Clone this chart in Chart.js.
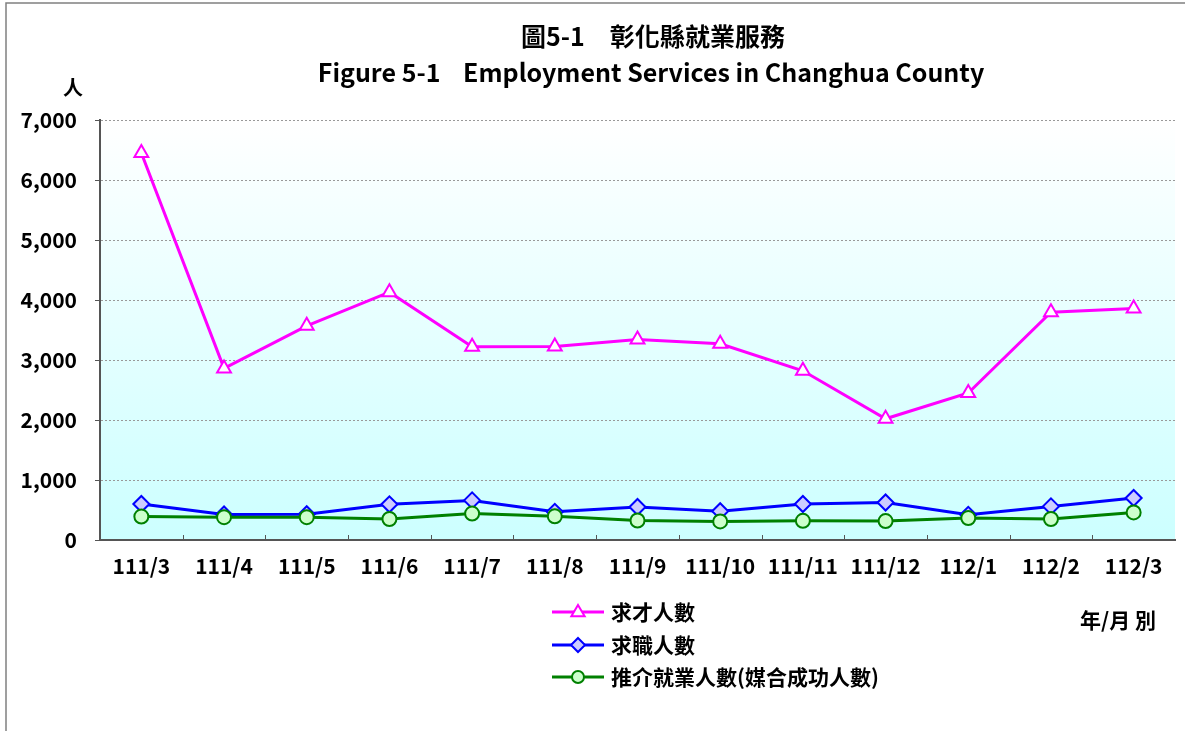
<!DOCTYPE html>
<html>
<head>
<meta charset="utf-8">
<script src="https://cdn.jsdelivr.net/npm/chart.js@4.4.0/dist/chart.umd.min.js"></script>
<style>
  html, body { margin: 0; padding: 0; background: #fff; overflow: hidden; }
  #wrap { width: 1185px; height: 731px; position: relative; }
</style>
</head>
<body>
<div id="wrap"><canvas id="employmentChart" width="1185" height="731"></canvas></div>
<script>
// months (ROC year / month)
const months = ["111/3", "111/4", "111/5", "111/6", "111/7", "111/8", "111/9",
  "111/10", "111/11", "111/12", "112/1", "112/2", "112/3"];

// 求才人數
const vacancies = [6450, 2860, 3570, 4130, 3220, 3225, 3340, 3270, 2820, 2020, 2450, 3795, 3860];
// 求職人數
const jobSeekers = [600, 425, 430, 595, 660, 470, 550, 480, 600, 625, 420, 560, 700];
// 推介就業人數(媒合成功人數)
const placements = [390, 380, 380, 350, 440, 395, 325, 310, 320, 315, 365, 350, 460];

const yTicks = [0, 1000, 2000, 3000, 4000, 5000, 6000, 7000];

const titleZh = "圖5-1　彰化縣就業服務";
const titleEn = "Figure 5-1    Employment Services in Changhua County";
const yUnit = "人";
const xUnit = "年/月 別";

const FONT = "'Noto Sans CJK TC', 'Noto Sans', sans-serif";

// background gradient of the plot area + outer frame
const backgroundPlugin = {
  id: "plotBackground",
  beforeDraw(chart) {
    const { ctx, chartArea } = chart;
    ctx.save();
    const grad = ctx.createLinearGradient(0, chartArea.top, 0, chartArea.bottom);
    grad.addColorStop(0, "#ffffff");
    grad.addColorStop(1, "#ccffff");
    ctx.fillStyle = grad;
    ctx.fillRect(chartArea.left, chartArea.top, chartArea.right - chartArea.left, chartArea.bottom - chartArea.top);

    // outer frame (only top and left are inside the picture)
    ctx.strokeStyle = "#808080";
    ctx.lineWidth = 1.5;
    ctx.beginPath();
    ctx.moveTo(6, 740);
    ctx.lineTo(6, 3);
    ctx.lineTo(1200, 3);
    ctx.stroke();
    ctx.restore();
  }
};

function drawMarker(ctx, style, x, y, r) {
  if (style === "circle") {
    ctx.arc(x, y, r, 0, Math.PI * 2);
  } else if (style === "rectRot") {
    ctx.moveTo(x, y - r); ctx.lineTo(x + r, y); ctx.lineTo(x, y + r); ctx.lineTo(x - r, y); ctx.closePath();
  } else {
    ctx.moveTo(x, y - r); ctx.lineTo(x + r * 0.95, y + r * 0.6); ctx.lineTo(x - r * 0.95, y + r * 0.6); ctx.closePath();
  }
}

// titles, unit labels, inner x tick marks, legend
const annotationPlugin = {
  id: "annotations",
  afterDraw(chart) {
    const { ctx, chartArea } = chart;
    const xScale = chart.scales.x;
    ctx.save();

    // inward tick marks on the x axis between categories
    ctx.strokeStyle = "#555";
    ctx.lineWidth = 1;
    for (let i = 1; i < months.length; i++) {
      const x = Math.round((xScale.getPixelForValue(i - 1) + xScale.getPixelForValue(i)) / 2) + 0.5;
      ctx.beginPath();
      ctx.moveTo(x, chartArea.bottom);
      ctx.lineTo(x, chartArea.bottom - 5);
      ctx.stroke();
    }

    ctx.fillStyle = "#000";
    ctx.textAlign = "center";
    ctx.textBaseline = "middle";
    ctx.font = "bold 25px " + FONT;
    ctx.fillText(titleZh, 653, 36);
    ctx.fillText(titleEn, 651, 72);

    ctx.font = "bold 20px " + FONT;
    ctx.fillText(yUnit, 73, 87);
    ctx.textAlign = "left";
    ctx.font = "bold 21px " + FONT;
    ctx.fillText(xUnit, 1080, 620);

    // legend, built from the datasets
    const rowY = [612, 645, 677];
    chart.data.datasets.forEach((ds, r) => {
      const y = rowY[r];
      ctx.strokeStyle = ds.borderColor;
      ctx.lineWidth = 3;
      ctx.beginPath();
      ctx.moveTo(552, y);
      ctx.lineTo(604, y);
      ctx.stroke();
      ctx.fillStyle = ds.pointBackgroundColor;
      ctx.lineWidth = 2;
      ctx.beginPath();
      drawMarker(ctx, ds.pointStyle, 578, y, ds.pointRadius - 1);
      ctx.fill();
      ctx.stroke();
      ctx.fillStyle = "#000";
      ctx.font = "bold 21px " + FONT;
      ctx.textAlign = "left";
      ctx.fillText(ds.label, 611, y);
    });
    ctx.restore();
  }
};

const ctx = document.getElementById("employmentChart");

new Chart(ctx, {
  type: "line",
  data: {
    labels: months,
    datasets: [
      {
        label: "求才人數",
        data: vacancies,
        borderColor: "#ff00ff",
        backgroundColor: "#ffffff",
        pointBackgroundColor: "#ffffff",
        pointBorderColor: "#ff00ff",
        pointStyle: "triangle",
        pointRadius: 8,
        pointBorderWidth: 2,
        borderWidth: 3,
        tension: 0,
        order: 2,
      },
      {
        label: "求職人數",
        data: jobSeekers,
        borderColor: "#0000ff",
        backgroundColor: "#ccccff",
        pointBackgroundColor: "#ccccff",
        pointBorderColor: "#0000ff",
        pointStyle: "rectRot",
        pointRadius: 8,
        pointBorderWidth: 2,
        borderWidth: 3,
        tension: 0,
        order: 1,
      },
      {
        label: "推介就業人數(媒合成功人數)",
        data: placements,
        borderColor: "#008000",
        backgroundColor: "#ccffcc",
        pointBackgroundColor: "#ccffcc",
        pointBorderColor: "#008000",
        pointStyle: "circle",
        pointRadius: 7,
        pointBorderWidth: 2,
        borderWidth: 3,
        tension: 0,
        order: 0,
      },
    ],
  },
  options: {
    responsive: false,
    animation: false,
    layout: {
      padding: { top: 120, left: 0, right: 3, bottom: 146 },
    },
    scales: {
      x: {
        offset: true,
        grid: { display: false },
        border: { display: true, color: "#555", width: 2 },
        ticks: {
          color: "#000",
          padding: 5,
          maxRotation: 0,
          font: { family: FONT, size: 21, weight: "bold" },
        },
        afterFit(scale) { scale.height = 45; },
      },
      y: {
        min: 0,
        max: 7000,
        afterBuildTicks(scale) {
          scale.ticks = yTicks.map(v => ({ value: v }));
        },
        grid: {
          color: "#999",
          lineWidth: 1,
          drawTicks: true,
          tickLength: 5,
          tickColor: "#555",
        },
        border: { display: true, color: "#555", width: 2, dash: [2, 2] },
        ticks: {
          color: "#000",
          padding: 18,
          font: { family: FONT, size: 21, weight: "bold" },
          callback: v => v.toLocaleString("en-US"),
        },
        afterFit(scale) { scale.width = 100; },
      },
    },
    plugins: {
      legend: { display: false },
      title: { display: false },
      tooltip: { enabled: false },
    },
  },
  plugins: [backgroundPlugin, annotationPlugin],
});
</script>
</body>
</html>
